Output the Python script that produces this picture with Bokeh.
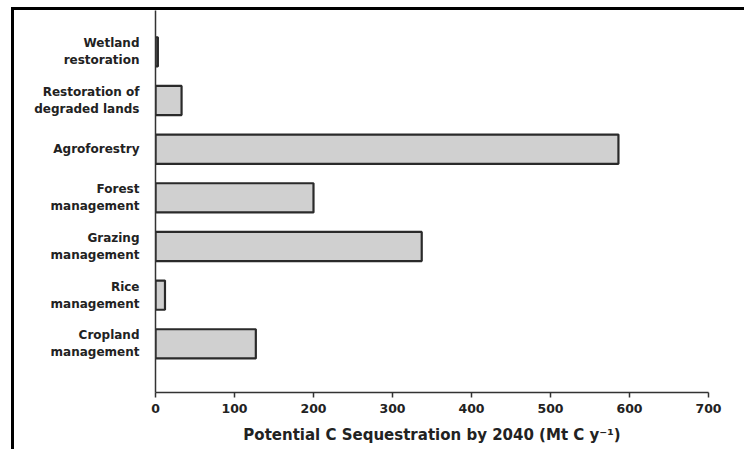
from bokeh.plotting import figure
from bokeh.models import ColumnDataSource, Range1d, FixedTicker
from bokeh.embed import file_html
from bokeh.resources import INLINE

# Data (top to bottom as in the chart)
categories = ["Wetland\nrestoration", "Restoration of\ndegraded lands", "Agroforestry",
              "Forest\nmanagement", "Grazing\nmanagement", "Rice\nmanagement",
              "Cropland\nmanagement"]
values = [3, 33, 586, 200, 337, 12, 127]
x_ticks = [0, 100, 200, 300, 400, 500, 600, 700]

n = len(categories)
positions = [n - i for i in range(n)]

source = ColumnDataSource(dict(y=positions, v=values, cat=categories))

p = figure(width=733, height=442, output_backend="svg", toolbar_location=None,
           x_range=Range1d(0, 700), y_range=Range1d(0, 7.85),
           min_border_left=141, min_border_right=39, min_border_top=0,
           min_border_bottom=60)
p.styles = {"border-top": "3px solid black", "border-left": "3px solid black",
            "margin-left": "11px", "margin-top": "7px"}

p.hbar(y="y", right="v", left=0, height=0.6, source=source,
       fill_color="#d0d0d0", line_color="#2a2a2a", line_width=2.2)

p.xgrid.visible = False
p.ygrid.visible = False
p.outline_line_color = None
p.background_fill_color = "white"
p.border_fill_color = "white"

FONT = "DejaVu Sans"

# x axis
xa = p.xaxis[0]
xa.ticker = FixedTicker(ticks=x_ticks)
xa.minor_tick_line_color = None
xa.major_tick_in = 0
xa.major_tick_out = 5
xa.major_tick_line_width = 1.5
xa.major_tick_line_color = "#333333"
xa.axis_line_color = "#333333"
xa.axis_line_width = 1.5
xa.major_label_text_font = FONT
xa.major_label_text_font_style = "bold"
xa.major_label_text_font_size = "12.5px"
xa.major_label_text_color = "#222222"
xa.major_label_standoff = 6
xa.axis_label = "Potential C Sequestration by 2040 (Mt C y\u207b\u00b9)"
xa.axis_label_text_font = FONT
xa.axis_label_text_font_style = "bold"
xa.axis_label_text_font_size = "15px"
xa.axis_label_text_color = "#222222"
xa.axis_label_standoff = 10

# y axis
ya = p.yaxis[0]
ya.ticker = FixedTicker(ticks=positions)
ya.major_label_overrides = {pos: cat for pos, cat in zip(positions, categories)}
ya.major_tick_line_color = None
ya.minor_tick_line_color = None
ya.axis_line_color = "#333333"
ya.axis_line_width = 1.5
ya.major_label_text_font = FONT
ya.major_label_text_font_style = "bold"
ya.major_label_text_font_size = "12px"
ya.major_label_text_color = "#222222"
ya.major_label_standoff = 10

open("out.html", "w").write(file_html(p, INLINE))
